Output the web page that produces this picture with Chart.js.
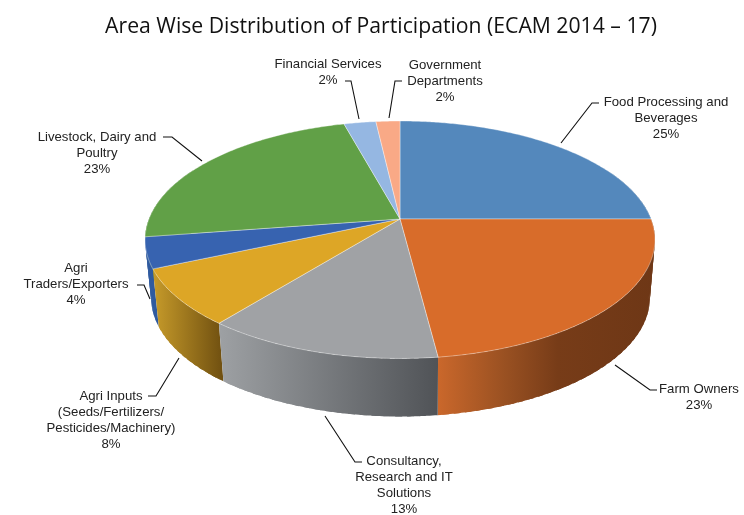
<!DOCTYPE html>
<html><head><meta charset="utf-8">
<style>html,body{margin:0;padding:0;background:#fff}canvas{display:block}</style>
<script src="https://cdn.jsdelivr.net/npm/chart.js@4"></script>
</head><body><canvas id="c" width="744" height="515"></canvas>
<script>
const categories = ["Food Processing and Beverages","Farm Owners","Consultancy, Research and IT Solutions","Agri Inputs (Seeds/Fertilizers/ Pesticides/Machinery)","Agri Traders/Exporters","Livestock, Dairy and Poultry","Financial Services","Government Departments"];
const shares = [25, 23, 12.7, 7.7, 4.2, 23.2, 2.4, 1.8];
const percentLabels = ["25%","23%","13%","8%","4%","23%","2%","2%"];
const topColors = ["#5488BC","#D86C2A","#A0A2A5","#DDA626","#3763B0","#61A047","#95B7E2","#F9A986"];

const labelLines = [
  ["Food Processing and","Beverages"],
  ["Farm Owners"],
  ["Consultancy,","Research and IT","Solutions"],
  ["Agri Inputs","(Seeds/Fertilizers/","Pesticides/Machinery)"],
  ["Agri","Traders/Exporters"],
  ["Livestock, Dairy and","Poultry"],
  ["Financial Services"],
  ["Government","Departments"]
];
const labelAnchors = [[666,102],[699,389],[404,461],[111,396],[76,268],[97,137],[328,64],[445,65]];
const leaders = [
  [[561,143],[592,103],[599,103]],
  [[615,365],[650,390],[657,390]],
  [[325,416],[355,462],[362,462]],
  [[179,358],[156,396],[148,396]],
  [[150,299],[144,285],[137,285]],
  [[202,161],[172,137],[163,137]],
  [[359,119],[351,81],[345,81]],
  [[389,118],[395,81],[402,81]]
];
const wallStops = [
  [[0,"#4A7AAA"],[1,"#3A5F88"]],
  [[0,"#C9672B"],[0.3,"#9A5122"],[0.55,"#773C18"],[1,"#6E3716"]],
  [[0,"#9DA0A3"],[1,"#505357"]],
  [[0,"#C79B2A"],[1,"#6F4F10"]],
  [[0,"#2F5A9F"],[1,"#2F5A9F"]],
  [[0,"#4F8A3A"],[1,"#4F8A3A"]],
  [[0,"#7F9FC8"],[1,"#7F9FC8"]],
  [[0,"#D98F70"],[1,"#D98F70"]]
];

const topDisc = {cx:400, cy:219, a:251, b:115.1, k:0.1747};
const baseDisc = {cx:400.5, cy:277, a:245.5, b:115.1, k:0.1747};
function project(d, th){
  const den = 1 + d.k*Math.cos(th);
  return [d.cx + d.a*Math.sin(th)/den, d.cy - d.b*Math.cos(th)/den];
}
function traceArc(ctx, d, from, to, first){
  const n = Math.max(2, Math.ceil(Math.abs(to-from)/0.01));
  for(let i=0;i<=n;i++){
    const p = project(d, from+(to-from)*i/n);
    if(i===0 && first) ctx.moveTo(p[0],p[1]); else ctx.lineTo(p[0],p[1]);
  }
}
const perspectivePie = {
  id:"perspectivePie",
  beforeDatasetDraw(){ return false; },
  afterDatasetsDraw(chart){
    const ctx = chart.ctx, arcs = chart.getDatasetMeta(0).data;
    const range = arcs.map(a=>[a.startAngle+Math.PI/2, a.endAngle+Math.PI/2]);
    ctx.save();
    // walls: overlapping segments so the tangent silhouette between the rims is filled without seams
    const order = [0,1,7,6,5,4,3,2];
    order.forEach(i=>{
      const from = Math.max(range[i][0], Math.PI*0.35);
      const to = Math.min(range[i][1], Math.PI*1.65);
      if(to<=from) return;
      const xs=[]; for(let t=from;t<=to;t+=0.01){xs.push(project(topDisc,t)[0]);xs.push(project(baseDisc,t)[0]);}
      const g = ctx.createLinearGradient(Math.min(...xs),0,Math.max(...xs),0);
      wallStops[i].forEach(s=>g.addColorStop(s[0],s[1]));
      ctx.fillStyle=g;
      const n = Math.ceil((to-from)/0.04);
      for(let j=0;j<n;j++){
        const t0=from+(to-from)*j/n, t1=Math.min(to,from+(to-from)*(j+1.6)/n);
        ctx.beginPath();
        traceArc(ctx,topDisc,t0,t1,true);
        traceArc(ctx,baseDisc,t1,t0,false);
        ctx.closePath(); ctx.fill();
      }
    });
    // top face
    arcs.forEach((a,i)=>{
      ctx.beginPath();
      ctx.moveTo(topDisc.cx,topDisc.cy);
      traceArc(ctx,topDisc,range[i][0],range[i][1],false);
      ctx.closePath();
      ctx.fillStyle=a.options.backgroundColor; ctx.fill();
      ctx.strokeStyle="rgba(255,255,255,0.45)"; ctx.lineWidth=0.8; ctx.stroke();
    });
    // leader lines
    ctx.strokeStyle="#111"; ctx.lineWidth=1.1;
    leaders.forEach(l=>{
      ctx.beginPath();
      l.forEach((p,j)=> j?ctx.lineTo(p[0],p[1]):ctx.moveTo(p[0],p[1]));
      ctx.stroke();
    });
    // labels
    ctx.fillStyle="#222"; ctx.font='13.2px "Liberation Sans"';
    ctx.textAlign="center"; ctx.textBaseline="middle";
    labelLines.forEach((lines,i)=>{
      const all = lines.concat(percentLabels[i]);
      all.forEach((t,j)=>ctx.fillText(t,labelAnchors[i][0],labelAnchors[i][1]+j*16.2));
    });
    ctx.restore();
  }
};
new Chart(document.getElementById("c"),{
  type:"pie",
  data:{labels:categories,datasets:[{data:shares,backgroundColor:topColors,borderWidth:0}]},
  options:{
    responsive:false,animation:false,devicePixelRatio:1,
    layout:{padding:{left:18,top:14}},
    plugins:{
      legend:{display:false},tooltip:{enabled:false},
      title:{display:true,text:"Area Wise Distribution of Participation (ECAM 2014 – 17)",
        color:"#111",font:{family:'"Open Sans"',size:21.2,weight:"normal"},padding:{top:0,bottom:10}}
    }
  },
  plugins:[perspectivePie]
});
</script></body></html>
